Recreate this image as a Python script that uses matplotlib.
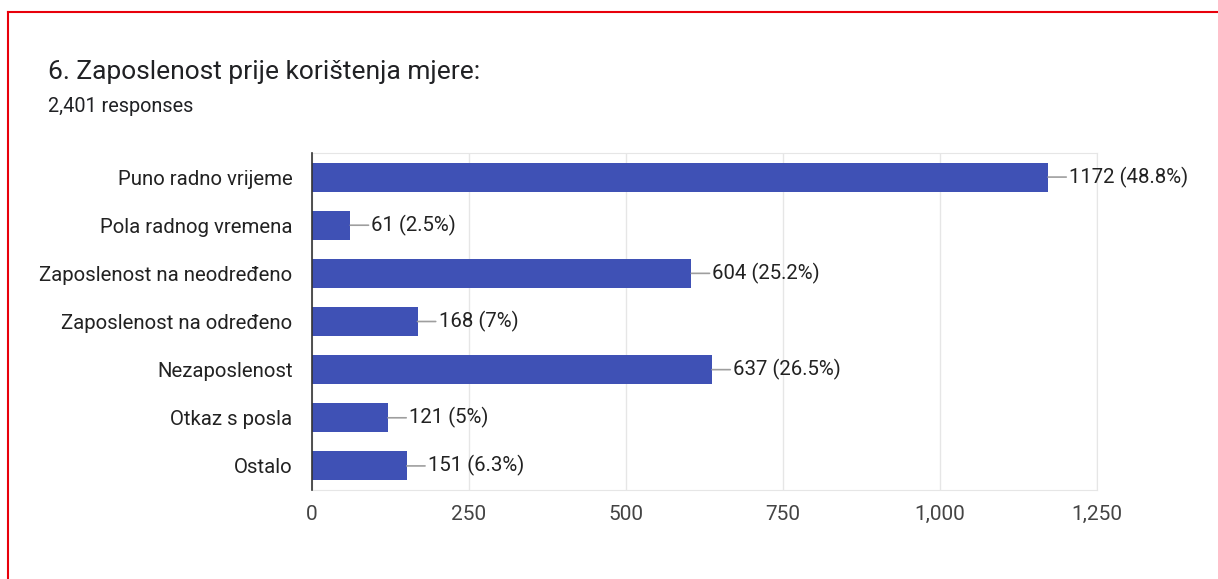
import matplotlib
matplotlib.use("Agg")
import matplotlib.pyplot as plt
from matplotlib.lines import Line2D

plt.rcParams["font.family"] = ["Roboto", "DejaVu Sans"]

categories = [
    "Puno radno vrijeme",
    "Pola radnog vremena",
    "Zaposlenost na neodređeno",
    "Zaposlenost na određeno",
    "Nezaposlenost",
    "Otkaz s posla",
    "Ostalo",
]
counts = [1172, 61, 604, 168, 637, 121, 151]
percents = ["48.8%", "2.5%", "25.2%", "7%", "26.5%", "5%", "6.3%"]
xticks = [0, 250, 500, 750, 1000, 1250]
xtick_labels = ["0", "250", "500", "750", "1,000", "1,250"]

BAR = "#3f51b5"
GRID = "#e6e6e6"

fig = plt.figure(figsize=(12.18, 5.79), dpi=100)
ax = fig.add_axes([312 / 1218, 1 - 490 / 579, 785 / 1218, 337 / 579])

ypos = list(range(len(categories)))
ax.barh(ypos, counts, height=0.6, color=BAR, zorder=3)

for y, c, p in zip(ypos, counts, percents):
    ax.annotate(f"{c} ({p})", xy=(c, y), xytext=(21, 0), textcoords="offset pixels",
                ha="left", va="center", fontsize=14.7, color="#222222",
                arrowprops=dict(arrowstyle="-", color="#9e9e9e", lw=1.2,
                                shrinkA=0, shrinkB=0))

ax.set_xlim(0, 1250)
ax.set_ylim(len(categories) - 0.5, -0.5)
ax.set_yticks(ypos)
ax.set_yticklabels(categories, fontsize=14.7, color="#222222")
ax.set_xticks(xticks)
ax.set_xticklabels(xtick_labels, fontsize=15, color="#444444")
ax.tick_params(axis="both", length=0)
ax.tick_params(axis="y", pad=14)
ax.tick_params(axis="x", pad=11)
ax.grid(axis="x", color=GRID, lw=1, zorder=0)
for s in ("top", "right", "bottom"):
    ax.spines[s].set_color(GRID)
ax.spines["left"].set_color("#333333")
ax.spines["left"].set_linewidth(1.2)
ax.spines["left"].set_zorder(4)

fig.text(48 / 1218, 1 - 72 / 579, "6. Zaposlenost prije korištenja mjere:",
         fontsize=19, color="#202124", va="center", ha="left")
fig.text(48 / 1218, 1 - 106 / 579, "2,401 responses", fontsize=14.3, color="#202124",
         va="center", ha="left")

# red frame (top and left edges)
fig.add_artist(Line2D([8 / 1218, 1], [1 - 12 / 579, 1 - 12 / 579], color="#e8000b", lw=1.5))
fig.add_artist(Line2D([8 / 1218, 8 / 1218], [1 - 12 / 579, 0], color="#e8000b", lw=1.5))

fig.savefig("out.png", dpi=100)
